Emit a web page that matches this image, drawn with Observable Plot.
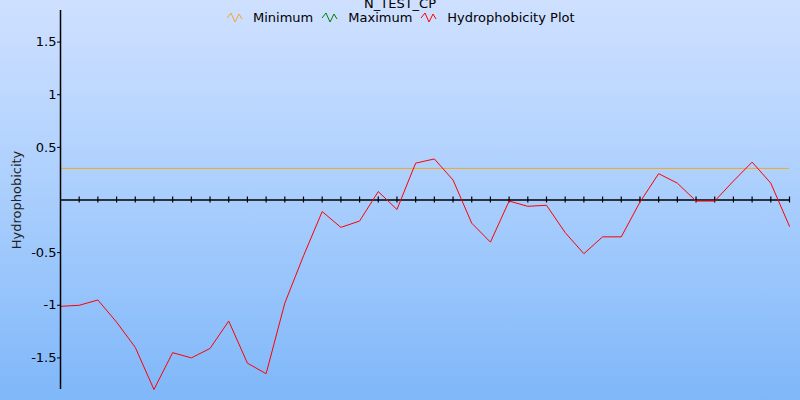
<!DOCTYPE html>
<html>
<head>
<meta charset="utf-8">
<script src="https://cdn.jsdelivr.net/npm/d3@7"></script>
<script src="https://cdn.jsdelivr.net/npm/@observablehq/plot@0.6"></script>
<style>
  html, body { margin: 0; padding: 0; }
  body { width: 800px; height: 400px; overflow: hidden; font-family: "DejaVu Sans", sans-serif; }
  #wrap { position: relative; width: 800px; height: 400px;
    background: linear-gradient(to bottom, #cfe0ff 0%, #a9cefd 50%, #7fb7f9 100%); }
  #wrap svg.plot { position: absolute; left: 0; top: 0; background: transparent; }
  #title { position: absolute; left: 0; width: 800px; top: -4px; text-align: center; font-size: 13px; color: #000; }
  #legend { position: absolute; top: 10px; left: 226px; font-size: 13px; color: #000; display: flex; align-items: center; white-space: nowrap; }
  #legend .item { display: flex; align-items: center; margin-right: 8px; }
  #legend svg { margin-right: 10px; }
</style>
</head>
<body>
<div id="wrap">
  <div id="title">N_TEST_CP</div>
  <div id="legend"></div>
</div>
<script>
// Hydrophobicity values per residue position
const positions = d3.range(40);
const hydrophobicity = [
  -1.01, -1.00, -0.95, -1.16, -1.40, -1.80, -1.45, -1.50, -1.41, -1.15,
  -1.55, -1.65, -0.98, -0.53, -0.11, -0.26, -0.20, 0.08, -0.09, 0.35,
  0.39, 0.19, -0.22, -0.40, -0.01, -0.06, -0.05, -0.31, -0.51, -0.35,
  -0.35, -0.02, 0.25, 0.16, -0.01, -0.01, 0.18, 0.36, 0.16, -0.25
];
const minimumLevel = [0.3];
const yTickValues = [-1.5, -1, -0.5, 0.5, 1, 1.5];
const yTickLabels = ["-1.5", "-1", "-0.5", "0.5", "1", "1.5"];
const legendLabels = ["Minimum", "Maximum", "Hydrophobicity Plot"];
const legendColors = ["#f5a623", "#008000", "#ff0000"];

const data = positions.map((p, i) => ({pos: p, value: hydrophobicity[i]}));

const chart = Plot.plot({
  width: 800,
  height: 400,
  marginLeft: 60,
  marginRight: 11,
  marginTop: 10,
  marginBottom: 11,
  style: {fontFamily: "DejaVu Sans, sans-serif", fontSize: "13px", background: "transparent", color: "#000"},
  x: {domain: [0, 39], axis: null},
  y: {domain: [-1.8, 1.8]},
  marks: [
    Plot.ruleY(minimumLevel, {stroke: legendColors[0], strokeWidth: 1}),
    Plot.ruleY([0], {stroke: "#000", strokeWidth: 1.5}),
    Plot.ruleX(positions.slice(1), {x: d => d, y1: 0, y2: 0, insetTop: -3, insetBottom: -3, stroke: "#000", strokeWidth: 1.2}),
    Plot.line(data, {x: "pos", y: "value", stroke: legendColors[2], strokeWidth: 1}),
    Plot.ruleX([0], {stroke: "#000", strokeWidth: 1.5}),
    Plot.axisY({
      ticks: yTickValues,
      tickFormat: (d) => yTickLabels[yTickValues.indexOf(d)],
      tickSize: 3,
      tickPadding: 1,
      label: null,
      stroke: "#000"
    }),
    Plot.text(["Hydrophobicity"], {frameAnchor: "left", textAnchor: "middle", rotate: -90, dx: -44, fontSize: 13, fill: "#222"})
  ]
});
document.getElementById("wrap").appendChild(chart);

const legend = document.getElementById("legend");
legendLabels.forEach((lab, i) => {
  const item = document.createElement("div");
  item.className = "item";
  item.innerHTML = `<svg width="17" height="12" viewBox="0 0 17 12"><polyline points="1,6 5,1 9,10 13,2 16,7" fill="none" stroke="${legendColors[i]}" stroke-width="1"/></svg><span>${lab}</span>`;
  legend.appendChild(item);
});
</script>
</body>
</html>
